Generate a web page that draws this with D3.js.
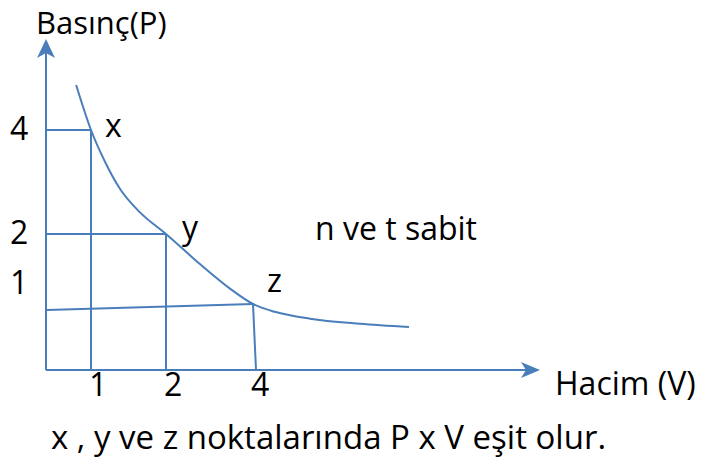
<!DOCTYPE html>
<html>
<head>
<meta charset="utf-8">
<script src="https://cdn.jsdelivr.net/npm/d3@7"></script>
<style>
  html, body { margin: 0; padding: 0; background: #ffffff; }
  svg text { font-family: "Open Sans", Lato, sans-serif; fill: #000; }
</style>
</head>
<body>
<svg id="chart" width="708" height="462"></svg>
<script>
// Boyle yasası: sabit n ve t için basınç–hacim eğrisi
const pTicks = [4, 2, 1];
const vTicks = [1, 2, 4];
const points = ["x", "y", "z"];
const pointV = [1, 2, 4];
const pointP = [4, 2, 1];
const curveV = [0.67, 1, 1.19, 1.39, 1.65, 2, 2.78, 3.47, 4, 4.56, 5.46, 6.74, 8];
const curveP = [6, 4, 3.38, 2.86, 2.42, 2, 1.57, 1.22, 1, 0.83, 0.68, 0.57, 0.5];
const yTitle = "Basınç(P)";
const xTitle = "Hacim (V)";
const note = "n ve t sabit";
const caption = "x , y ve z noktalarında P x V eşit olur.";

const blue = "#4a7ebb";
const svg = d3.select("#chart");

// Şematik (ölçeksiz) eksenler: parçalı doğrusal ölçekler
const x = d3.scaleLinear().domain([0, 1, 2, 4, 8]).range([46, 91, 166, 253, 409]);
const y = d3.scaleLinear().domain([0, 0.5, 1, 2, 4, 6]).range([370, 327, 304, 234, 130, 85]);

const g = svg.append("g")
  .attr("fill", "none")
  .attr("stroke", blue)
  .attr("stroke-width", 2);

// Eksenler
const x0 = x(0), y0 = y(0);
g.append("line").attr("x1", x0).attr("y1", y0).attr("x2", x0).attr("y2", 50);
g.append("line").attr("x1", x0).attr("y1", y0).attr("x2", 530).attr("y2", y0);

// Ok başları
svg.append("path")
  .attr("d", `M${x0},39 L${x0 + 9},58 L${x0},53 L${x0 - 9},58 Z`)
  .attr("fill", blue);
svg.append("path")
  .attr("d", `M540,${y0} L521,${y0 - 8} L526,${y0} L521,${y0 + 8} Z`)
  .attr("fill", blue);

// Noktalardan eksenlere uzanan kılavuz çizgiler
points.forEach((name, i) => {
  const px = x(pointV[i]), py = y(pointP[i]);
  const tilt = name === "z" ? 6 : 0;
  g.append("line").attr("x1", x0 + 1).attr("y1", py + tilt).attr("x2", px).attr("y2", py);
  g.append("line").attr("x1", px).attr("y1", py).attr("x2", px + tilt / 2).attr("y2", y0);
});

// P·V = sabit eğrisi
const line = d3.line()
  .x(d => x(d[0]))
  .y(d => y(d[1]))
  .curve(d3.curveMonotoneX);
g.append("path")
  .datum(curveV.map((v, i) => [v, curveP[i]]))
  .attr("d", line);

const fs = 32;

// P eksen etiketleri
svg.selectAll(".ptick")
  .data(pTicks)
  .join("text")
  .attr("class", "ptick")
  .attr("x", 10)
  .attr("y", d => y(d) + (d === 1 ? -10 : 10))
  .attr("font-size", fs)
  .text(d => d);

// V eksen etiketleri
svg.selectAll(".vtick")
  .data(vTicks)
  .join("text")
  .attr("class", "vtick")
  .attr("x", d => x(d) - 2)
  .attr("y", 396)
  .attr("font-size", fs)
  .text(d => d);

// Nokta adları
const labelOffset = { x: [14, 7], y: [16, 5], z: [14, -12] };
svg.selectAll(".pname")
  .data(points)
  .join("text")
  .attr("class", "pname")
  .attr("x", (d, i) => x(pointV[i]) + labelOffset[d][0])
  .attr("y", (d, i) => y(pointP[i]) + labelOffset[d][1])
  .attr("font-size", fs)
  .text(d => d);

// Eksen başlıkları ve açıklamalar
svg.append("text").attr("x", 36).attr("y", 34).attr("font-size", 31).text(yTitle);
svg.append("text").attr("x", 555).attr("y", 395).attr("font-size", fs).text(xTitle);
svg.append("text").attr("x", 315).attr("y", 240).attr("font-size", fs).text(note);
svg.append("text").attr("x", 51).attr("y", 449).attr("font-size", 33).text(caption);
</script>
</body>
</html>
